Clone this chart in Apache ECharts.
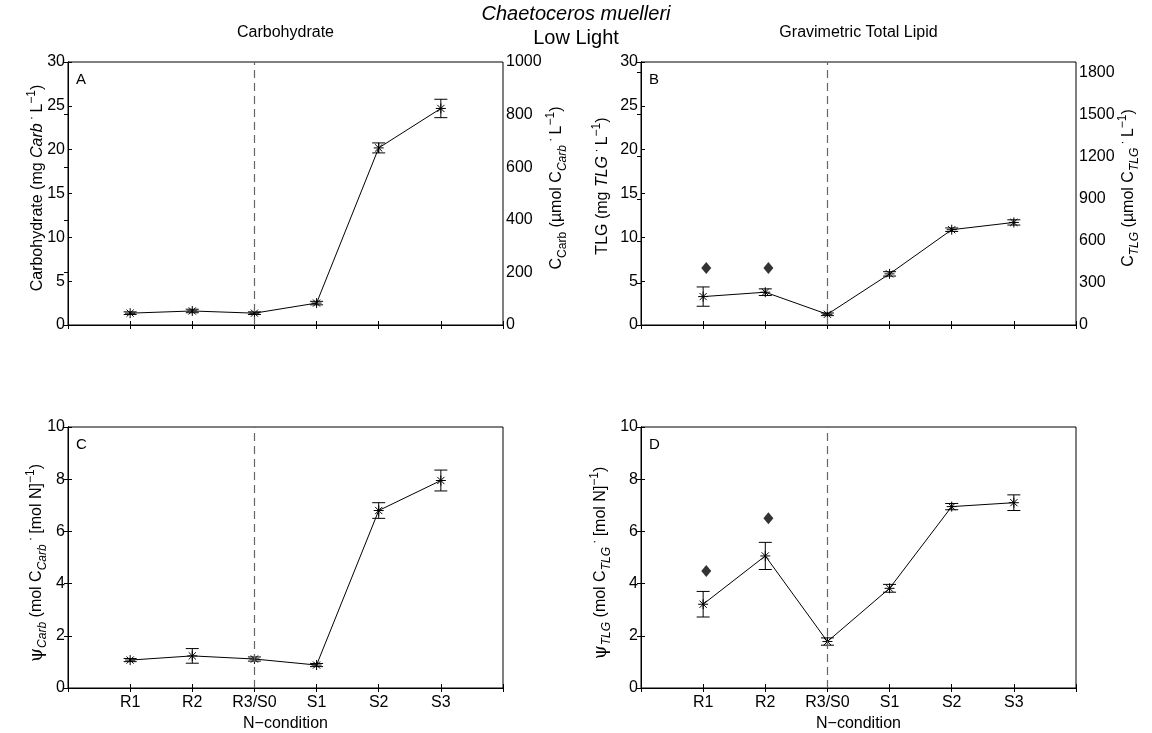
<!DOCTYPE html>
<html>
<head>
<meta charset="utf-8">
<script src="https://cdn.jsdelivr.net/npm/echarts@6/dist/echarts.min.js"></script>
<style>
  html, body { margin: 0; padding: 0; background: #fff; }
  #chart { width: 1152px; height: 733px; }
</style>
</head>
<body>
<div id="chart"></div>
<script>
// N-condition categories (placed at x = 1..6)
const conditions = ['R1', 'R2', 'R3/S0', 'S1', 'S2', 'S3'];

// Carbohydrate (mg Carb / L): mean and error
const carbMean = [1.35, 1.6, 1.35, 2.5, 20.2, 24.7];
const carbErr = [0.15, 0.2, 0.15, 0.2, 0.57, 1.05];

// Gravimetric total lipid (mg TLG / L): mean, error, extra points at R1, R2
const tlgMean = [3.24, 3.74, 1.22, 5.83, 10.87, 11.7];
const tlgErr = [1.1, 0.38, 0.15, 0.25, 0.2, 0.3];
const tlgExtra = [6.5, 6.5];

// psi Carb (mol C_Carb / mol N)
const psiCarbMean = [1.07, 1.23, 1.11, 0.88, 6.8, 7.95];
const psiCarbErr = [0.06, 0.28, 0.08, 0.06, 0.3, 0.4];

// psi TLG (mol C_TLG / mol N), extra points at R1, R2
const psiTlgMean = [3.21, 5.06, 1.78, 3.82, 6.95, 7.1];
const psiTlgErr = [0.49, 0.52, 0.14, 0.15, 0.12, 0.3];
const psiTlgExtra = [4.48, 6.5];

// Right-hand carbon scales
const carbCMax = 1000;
const tlgCMax = 1875;

const FONT = '"Liberation Sans", Helvetica, Arial, sans-serif';
const FS = 16;

const grids = [
  { left: 68, top: 62, width: 435, height: 263 },
  { left: 641, top: 62, width: 435, height: 263 },
  { left: 68, top: 427, width: 435, height: 262 },
  { left: 641, top: 427, width: 435, height: 262 }
];

const rich = {
  n: { fontSize: FS, fontFamily: FONT, fill: '#000', color: '#000', lineHeight: 24 },
  i: { fontSize: FS, fontFamily: FONT, fontStyle: 'italic', fill: '#000', color: '#000', lineHeight: 24 },
  sub: { fontSize: 12, fontFamily: FONT, fill: '#000', color: '#000', lineHeight: 12, verticalAlign: 'bottom' },
  subi: { fontSize: 12, fontFamily: FONT, fontStyle: 'italic', fill: '#000', color: '#000', lineHeight: 12, verticalAlign: 'bottom' },
  sup: { fontSize: 12, fontFamily: FONT, fill: '#000', color: '#000', lineHeight: 12, verticalAlign: 'top' },
  psi: { fontSize: 18, fontFamily: '"DejaVu Serif", serif', fill: '#000', color: '#000', lineHeight: 24 }
};

function xAxisPair(gi, showLabels) {
  const base = {
    type: 'value', gridIndex: gi, min: 0, max: 7, interval: 1,
    axisLine: { show: true, lineStyle: { color: '#000', width: 1 } },
    axisTick: { show: true, inside: true, length: 4, lineStyle: { color: '#000' } },
    splitLine: { show: false }
  };
  return [
    Object.assign({}, base, {
      position: 'bottom',
      axisLabel: {
        show: showLabels, fontSize: FS, fontFamily: FONT, color: '#000', margin: 7,
        formatter: v => conditions[v - 1] || ''
      },
      name: showLabels ? 'N\u2212condition' : '',
      nameLocation: 'middle', nameGap: 28,
      nameTextStyle: { fontSize: FS, fontFamily: FONT, color: '#000' }
    }),
    Object.assign({}, base, { position: 'top', axisLabel: { show: false } })
  ];
}

function yAxis(gi, pos, max, interval, showLabels) {
  return {
    type: 'value', gridIndex: gi, position: pos, min: 0, max: max, interval: interval,
    axisLine: { show: true, lineStyle: { color: '#000', width: 1 } },
    axisTick: { show: true, inside: true, length: 4, lineStyle: { color: '#000' } },
    axisLabel: {
      show: showLabels, fontSize: FS, fontFamily: FONT, color: '#000', margin: 3,
      formatter: v => (v % interval === 0 ? String(v) : '')
    },
    splitLine: { show: false }
  };
}

const xAxes = [].concat(xAxisPair(0, false), xAxisPair(1, false), xAxisPair(2, true), xAxisPair(3, true));

const yAxes = [
  yAxis(0, 'left', 30, 5, true),
  yAxis(0, 'right', carbCMax, 200, true),
  yAxis(1, 'left', 30, 5, true),
  yAxis(1, 'right', tlgCMax, 300, true),
  yAxis(2, 'left', 10, 2, true),
  yAxis(2, 'right', 10, 2, false),
  yAxis(3, 'left', 10, 2, true),
  yAxis(3, 'right', 10, 2, false)
];

// Rotated axis titles (rich text for sub/superscripts)
const yTitles = [
  { x: 38, y: 188, text: '{n|Carbohydrate (mg }{i|Carb}{sup| · }{n|L}{sup|\u22121}{n|)}' },
  { x: 557, y: 188, text: '{n|C}{sub|Carb}{n| (\u00b5mol C}{subi|Carb}{sup| · }{n|L}{sup|\u22121}{n|)}' },
  { x: 603, y: 186, text: '{n|TLG (mg }{i|TLG}{sup| · }{n|L}{sup|\u22121}{n|)}' },
  { x: 1129, y: 188, text: '{n|C}{subi|TLG}{n| (\u00b5mol C}{subi|TLG}{sup| · }{n|L}{sup|\u22121}{n|)}' },
  { x: 37, y: 563, text: '{psi|\u03c8}{subi|Carb}{n| (mol C}{subi|Carb}{sup| · }{n|[mol N]}{sup|\u22121}{n|)}' },
  { x: 601, y: 563, text: '{psi|\u03c8}{subi|TLG}{n| (mol C}{subi|TLG}{sup| · }{n|[mol N]}{sup|\u22121}{n|)}' }
];

function toPoints(arr) { return arr.map((v, k) => [k + 1, v]); }
function toBars(mean, err) { return mean.map((v, k) => [k + 1, v, err[k]]); }

// Error bar + asterisk marker
function renderErr(params, api) {
  const x = api.value(0), m = api.value(1), e = api.value(2);
  const c = api.coord([x, m]);
  const lo = api.coord([x, m - e]);
  const hi = api.coord([x, m + e]);
  const st = { stroke: '#000', lineWidth: 1 };
  const cap = 6.5, r = 5, d = 3.6;
  const seg = (x1, y1, x2, y2) => ({ type: 'line', shape: { x1, y1, x2, y2 }, style: st });
  return {
    type: 'group',
    children: [
      seg(c[0], lo[1], c[0], hi[1]),
      seg(c[0] - cap, lo[1], c[0] + cap, lo[1]),
      seg(c[0] - cap, hi[1], c[0] + cap, hi[1]),
      seg(c[0] - r, c[1], c[0] + r, c[1]),
      seg(c[0], c[1] - r, c[0], c[1] + r),
      seg(c[0] - d, c[1] - d, c[0] + d, c[1] + d),
      seg(c[0] - d, c[1] + d, c[0] + d, c[1] - d)
    ]
  };
}

const divider = {
  silent: true, symbol: ['none', 'none'], label: { show: false },
  lineStyle: { type: [8, 5], color: '#666', width: 1.2 },
  data: [{ xAxis: 3 }]
};

function panelSeries(gi, yi, mean, err) {
  return [
    {
      type: 'line', xAxisIndex: gi * 2, yAxisIndex: yi, data: toPoints(mean),
      symbol: 'none', lineStyle: { color: '#000', width: 1 }, animation: false,
      markLine: divider, z: 2
    },
    {
      type: 'custom', xAxisIndex: gi * 2, yAxisIndex: yi, data: toBars(mean, err),
      renderItem: renderErr, animation: false, z: 3
    }
  ];
}

function extraSeries(gi, yi, vals) {
  return {
    type: 'scatter', xAxisIndex: gi * 2, yAxisIndex: yi,
    data: vals.map((v, k) => [k + 1.05, v]),
    symbol: 'diamond', symbolSize: [10, 12], itemStyle: { color: '#000' }, animation: false, z: 4
  };
}

const series = [].concat(
  panelSeries(0, 0, carbMean, carbErr),
  panelSeries(1, 2, tlgMean, tlgErr),
  [extraSeries(1, 2, tlgExtra)],
  panelSeries(2, 4, psiCarbMean, psiCarbErr),
  panelSeries(3, 6, psiTlgMean, psiTlgErr),
  [extraSeries(3, 6, psiTlgExtra)]
);

const letters = ['A', 'B', 'C', 'D'];
const graphics = letters.map((t, k) => ({
  type: 'text', left: grids[k].left + 8, top: grids[k].top + 10,
  style: { text: t, fontSize: 15, fontFamily: FONT, fill: '#000' }
})).concat(yTitles.map(t => ({
  type: 'text', x: t.x, y: t.y, rotation: Math.PI / 2,
  style: { text: t.text, rich: rich, align: 'center', verticalAlign: 'middle', fill: '#000' }
}))).concat([
  { type: 'text', x: 576, y: 14, style: { text: 'Chaetoceros muelleri', fontSize: 20, fontStyle: 'italic', fontFamily: FONT, fill: '#000', align: 'center', verticalAlign: 'middle' } },
  { type: 'text', x: 576, y: 38, style: { text: 'Low Light', fontSize: 20, fontFamily: FONT, fill: '#000', align: 'center', verticalAlign: 'middle' } },
  { type: 'text', x: 285.5, y: 33, style: { text: 'Carbohydrate', fontSize: FS, fontFamily: FONT, fill: '#000', align: 'center', verticalAlign: 'middle' } },
  { type: 'text', x: 858.5, y: 33, style: { text: 'Gravimetric Total Lipid', fontSize: FS, fontFamily: FONT, fill: '#000', align: 'center', verticalAlign: 'middle' } }
]);

const chart = echarts.init(document.getElementById('chart'), null, { renderer: 'canvas' });
chart.setOption({
  backgroundColor: '#fff',
  animation: false,
  grid: grids.map(g => Object.assign({ show: true, borderColor: '#000', borderWidth: 1, containLabel: false }, g)),
  xAxis: xAxes,
  yAxis: yAxes,
  series: series,
  graphic: graphics
});
</script>
</body>
</html>
